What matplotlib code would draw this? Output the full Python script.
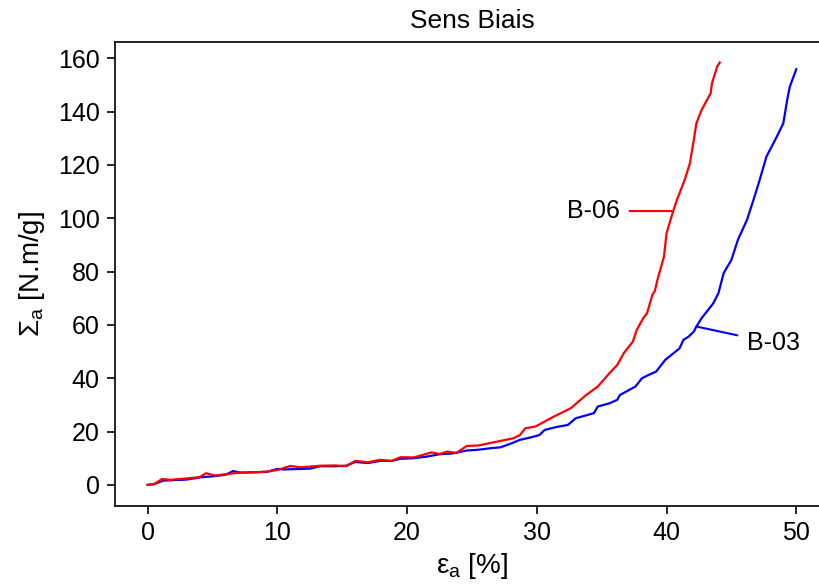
import matplotlib
matplotlib.use('Agg')
import matplotlib.pyplot as plt

plt.rcParams['font.family'] = ['Liberation Sans', 'DejaVu Sans']
plt.rcParams['mathtext.fontset'] = 'custom'
plt.rcParams['mathtext.rm'] = 'Liberation Sans'
plt.rcParams['mathtext.it'] = 'Liberation Sans'

# B-06 (red)
strain_b06 = [0, 0.5, 1.1, 1.7, 2.7, 4.0, 4.5, 5.2, 5.8, 7.1, 8.5, 9.2, 10.0, 11.0, 11.8,
              13.3, 14.5, 15.3, 16.0, 17.0, 17.9, 18.8, 19.5, 20.5, 21.9, 22.5, 23.1, 23.8,
              24.6, 25.5, 27.2, 28.2, 28.7, 29.1, 29.9, 31.3, 32.6, 33.8, 34.7, 35.6, 36.2,
              36.7, 37.4, 37.7, 38.2, 38.5, 38.9, 39.1, 39.3, 39.8, 40.0, 40.5, 40.8, 41.4,
              41.8, 42.1, 42.3, 42.7, 43.4, 43.5, 43.9, 44.1]
energy_b06 = [0, 0.3, 2.2, 1.9, 2.3, 2.9, 4.4, 3.5, 3.9, 4.6, 4.8, 5.0, 5.6, 7.1, 6.6,
              7.2, 7.3, 7.0, 9.0, 8.5, 9.4, 9.0, 10.4, 10.3, 12.2, 11.6, 12.5, 12.0,
              14.6, 14.8, 16.5, 17.5, 18.7, 21.2, 21.9, 25.6, 28.7, 33.7, 36.9, 41.9, 45.0,
              49.4, 53.7, 58.1, 62.5, 64.4, 71.2, 72.8, 76.9, 85.6, 94.4, 102.5, 106.9, 114.4,
              120.6, 129.4, 135.6, 140.6, 146.9, 150.6, 156.9, 158.4]

# B-03 (blue)
strain_b03 = [0, 0.5, 1.2, 2.0, 3.0, 4.0, 5.2, 6.0, 6.6, 7.1, 8.0, 9.2, 10.0, 10.5, 11.8,
              12.5, 13.3, 14.5, 15.3, 16.0, 17.0, 17.9, 18.8, 19.5, 20.5, 21.5, 22.5, 23.5,
              24.6, 25.5, 26.5, 27.2, 28.0, 28.7, 29.6, 30.2, 30.6, 31.4, 32.4, 33.0, 34.4,
              34.7, 35.6, 36.2, 36.4, 37.6, 37.8, 38.1, 38.6, 39.2, 39.5, 39.9, 41.0, 41.3,
              41.7, 42.1, 42.3, 42.7, 43.6, 44.0, 44.4, 45.0, 45.5, 46.2, 46.7, 47.1, 47.7,
              48.5, 49.0, 49.3, 49.5, 50.0]
energy_b03 = [0, 0.3, 1.6, 1.8, 2.0, 2.8, 3.3, 3.8, 5.2, 4.6, 4.7, 4.9, 6.0, 5.8, 6.0,
              6.1, 7.0, 7.0, 7.2, 8.6, 8.2, 9.0, 9.0, 9.8, 10.0, 10.6, 11.5, 11.8,
              12.9, 13.2, 13.8, 14.1, 15.5, 16.9, 17.9, 18.7, 20.6, 21.6, 22.5, 25.0, 26.9,
              29.4, 30.6, 31.9, 33.7, 36.9, 38.1, 40.0, 41.2, 42.5, 44.4, 46.9, 51.2, 54.4,
              55.6, 57.5, 59.4, 62.5, 68.1, 71.9, 79.4, 84.4, 91.9, 99.4, 106.9, 113.1, 123.1,
              130.6, 135.6, 144.4, 149.3, 155.9]

fig = plt.figure(figsize=(8.2, 5.84), dpi=100)
ax = fig.add_axes([0.1402, 0.1336, 0.872, 0.7945])

ax.plot(strain_b03, energy_b03, color='blue', lw=1.6)
ax.plot(strain_b06, energy_b06, color='red', lw=1.6)

ax.annotate('B-06', xy=(40.5, 102.7), xytext=(36.4, 102.7), ha='right', va='center',
            fontsize=18, arrowprops=dict(arrowstyle='-', color='red', lw=1.5,
                                         shrinkA=5, shrinkB=0))
ax.annotate('B-03', xy=(42.3, 59.4), xytext=(46.2, 53.2), ha='left', va='center',
            fontsize=18, arrowprops=dict(arrowstyle='-', color='blue', lw=1.5,
                                         shrinkA=5, shrinkB=0))

ax.set_xlim(-2.52, 52.6)
ax.set_ylim(-7.9, 166.1)
ax.set_xticks([0, 10, 20, 30, 40, 50])
ax.set_yticks(range(0, 161, 20))
ax.tick_params(labelsize=18, length=6, width=1.2, pad=5)
for s in ax.spines.values():
    s.set_linewidth(1.2)

ax.set_title('Sens Biais', fontsize=19, pad=10)
ax.set_xlabel(r'ε$_\mathrm{a}$ [%]', fontsize=20, labelpad=4)
ax.set_ylabel(r'Σ$_\mathrm{a}$ [N.m/g]', fontsize=20, labelpad=8)

fig.savefig('out.png', dpi=100)
